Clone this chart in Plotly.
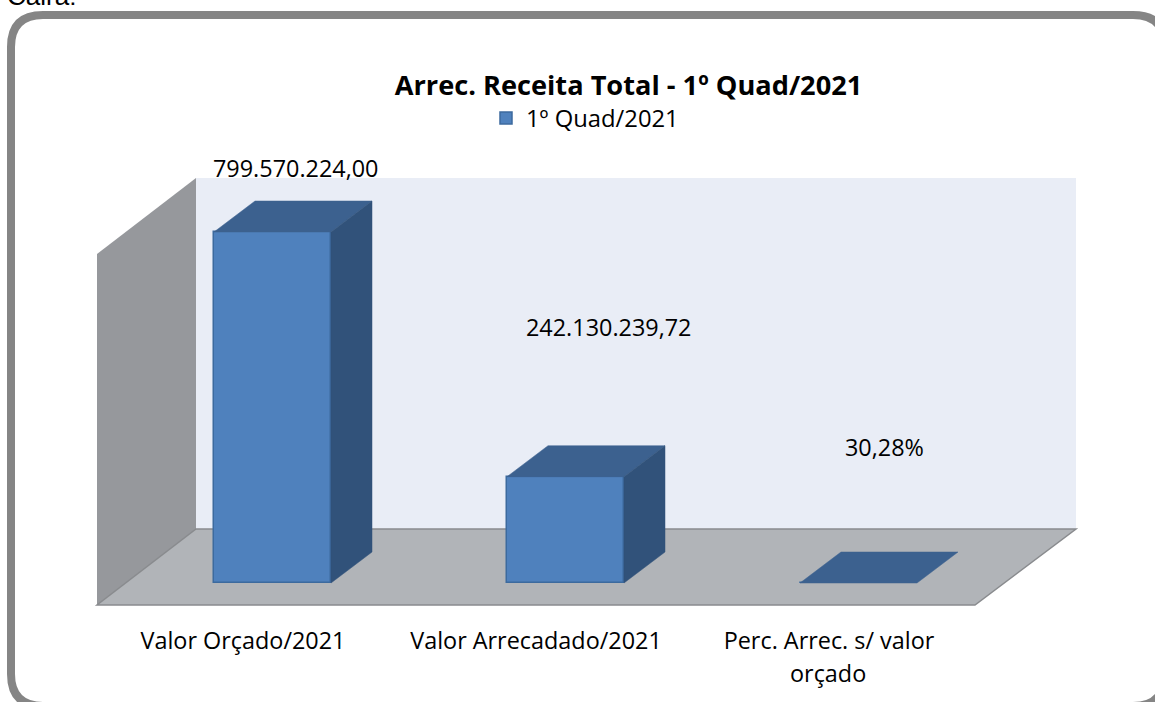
import plotly.graph_objects as go

# ---- data ----
categories = ["Valor Orçado/2021", "Valor Arrecadado/2021", "Perc. Arrec. s/ valor"]
values = [799570224.00, 242130239.72, 30.28]
value_labels = ["799.570.224,00", "242.130.239,72", "30,28%"]
series_name = "1º Quad/2021"
title_text = "Arrec. Receita Total - 1º Quad/2021"

W, H = 1155, 702
# plot-area geometry in pixels
PL, PR, PT, PB = 97, 1076, 150, 605
X0_PX, STEP_PX = 272.5, 293.0      # pixel of category 0 centre, px per category
Y0_PX, YSCALE = 583.0, 351.0 / 799570224.0  # pixel of value 0, px per unit
BAR_W = 117.0 / STEP_PX
DX_PX, DY_PX = 41.0, 31.0          # bar depth

x_range = [(PL - X0_PX) / STEP_PX, (PR - X0_PX) / STEP_PX]
y_range = [(Y0_PX - PB) / YSCALE, (Y0_PX - PT) / YSCALE]
dx = DX_PX / STEP_PX
dy = DY_PX / YSCALE

FONT = "Open Sans"
C_FRONT, C_EDGE, C_TOP, C_SIDE = "#4f81bd", "#3c6a9e", "#3c618f", "#31527a"

# page pixels -> plot-area paper fractions
def px(x): return (x - PL) / (PR - PL)
def py(y): return (PB - y) / (PB - PT)

fig = go.Figure()

# bars: front faces
fig.add_trace(go.Bar(
    x=[0, 1, 2], y=values, width=BAR_W, name=series_name,
    marker=dict(color=C_FRONT, line=dict(color=C_EDGE, width=1.5)),
    showlegend=True, hoverinfo="skip",
))

# depth faces, derived from the values
for i, v in enumerate(values):
    xl, xr = i - BAR_W / 2, i + BAR_W / 2
    fig.add_trace(go.Scatter(
        x=[xl, xl + dx, xr + dx, xr, xl], y=[v, v + dy, v + dy, v, v],
        mode="lines", fill="toself", fillcolor=C_TOP,
        line=dict(color=C_TOP, width=0.5), showlegend=False, hoverinfo="skip"))
    if v > 1000:
        fig.add_trace(go.Scatter(
            x=[xr, xr + dx, xr + dx, xr, xr], y=[v, v + dy, dy, 0, v],
            mode="lines", fill="toself", fillcolor=C_SIDE,
            line=dict(color=C_SIDE, width=0.5), showlegend=False, hoverinfo="skip"))

def poly(pts):
    return "M " + " L ".join(f"{px(x):.5f},{py(y):.5f}" for x, y in pts) + " Z"

shapes = [
    # back wall
    dict(type="path", xref="paper", yref="paper", layer="below",
         path=poly([(196, 178), (1076, 178), (1076, 529), (196, 529)]),
         fillcolor="#e9edf6", line=dict(width=0)),
    # left wall
    dict(type="path", xref="paper", yref="paper", layer="below",
         path=poly([(97, 605), (97, 254), (196, 178), (196, 529)]),
         fillcolor="#96989c", line=dict(width=0)),
    # floor
    dict(type="path", xref="paper", yref="paper", layer="below",
         path=poly([(97, 605), (975, 605), (1076, 529), (196, 529)]),
         fillcolor="#b1b4b8", line=dict(color="#898b8e", width=1.5)),
]

# outer rounded frame
L, T, R, B, r = 11, 15, 1165, 706, 32
frame = (f"M {px(L)},{py(T + r)} Q {px(L)},{py(T)} {px(L + r)},{py(T)} "
         f"L {px(R - r)},{py(T)} Q {px(R)},{py(T)} {px(R)},{py(T + r)} "
         f"L {px(R)},{py(B - r)} Q {px(R)},{py(B)} {px(R - r)},{py(B)} "
         f"L {px(L + r)},{py(B)} Q {px(L)},{py(B)} {px(L)},{py(B - r)} Z")
shapes.append(dict(type="path", xref="paper", yref="paper", layer="below",
                   path=frame, fillcolor="rgba(0,0,0,0)",
                   line=dict(color="#858585", width=8)))

label_font = dict(family=FONT, size=23.4, color="#000000")
annotations = []
# data labels: pixel lift above each bar top
lifts_px = [64, 150, 136]
shifts_px = [22.5, 42.5, 25.5]
for i, (v, t) in enumerate(zip(values, value_labels)):
    annotations.append(dict(x=i + shifts_px[i] / STEP_PX, y=v + lifts_px[i] / YSCALE,
                            text=t, showarrow=False, font=label_font,
                            xanchor="center", yanchor="middle"))
annotations.append(dict(x=px(828), y=py(673), xref="paper", yref="paper", text="orçado",
                        showarrow=False, font=label_font, xanchor="center", yanchor="middle"))
annotations.append(dict(x=px(5), y=py(-4), xref="paper", yref="paper", text="Caira:",
                        showarrow=False, xanchor="left", yanchor="middle",
                        font=dict(family="Liberation Sans", size=26, color="#000000")))

fig.update_layout(
    width=W, height=H, autosize=False,
    margin=dict(l=PL, r=W - PR, t=PT, b=H - PB, pad=0),
    paper_bgcolor="#ffffff", plot_bgcolor="rgba(0,0,0,0)",
    title=dict(text=f"<b>{title_text}</b>", x=628.5 / W, xanchor="center",
               y=1 - 85 / H, yanchor="middle",
               font=dict(family=FONT, size=27.2, color="#000000")),
    legend=dict(x=px(486), y=py(118), xanchor="left", yanchor="middle",
                orientation="h", bgcolor="rgba(0,0,0,0)",
                font=dict(family=FONT, size=23.8, color="#000000")),
    xaxis=dict(range=x_range, tickmode="array",
               tickvals=[i - 29.5 / STEP_PX for i in range(3)], ticktext=categories,
               showgrid=False, zeroline=False, showline=False,
               ticks="outside", ticklen=15, tickcolor="rgba(0,0,0,0)",
               tickfont=label_font),
    yaxis=dict(range=y_range, visible=False, showgrid=False, zeroline=False),
    shapes=shapes, annotations=annotations, bargap=0,
)

fig.write_html("out.html", config=dict(displayModeBar=False),
               post_script="document.body.style.margin='0';document.body.style.overflow='hidden';")
